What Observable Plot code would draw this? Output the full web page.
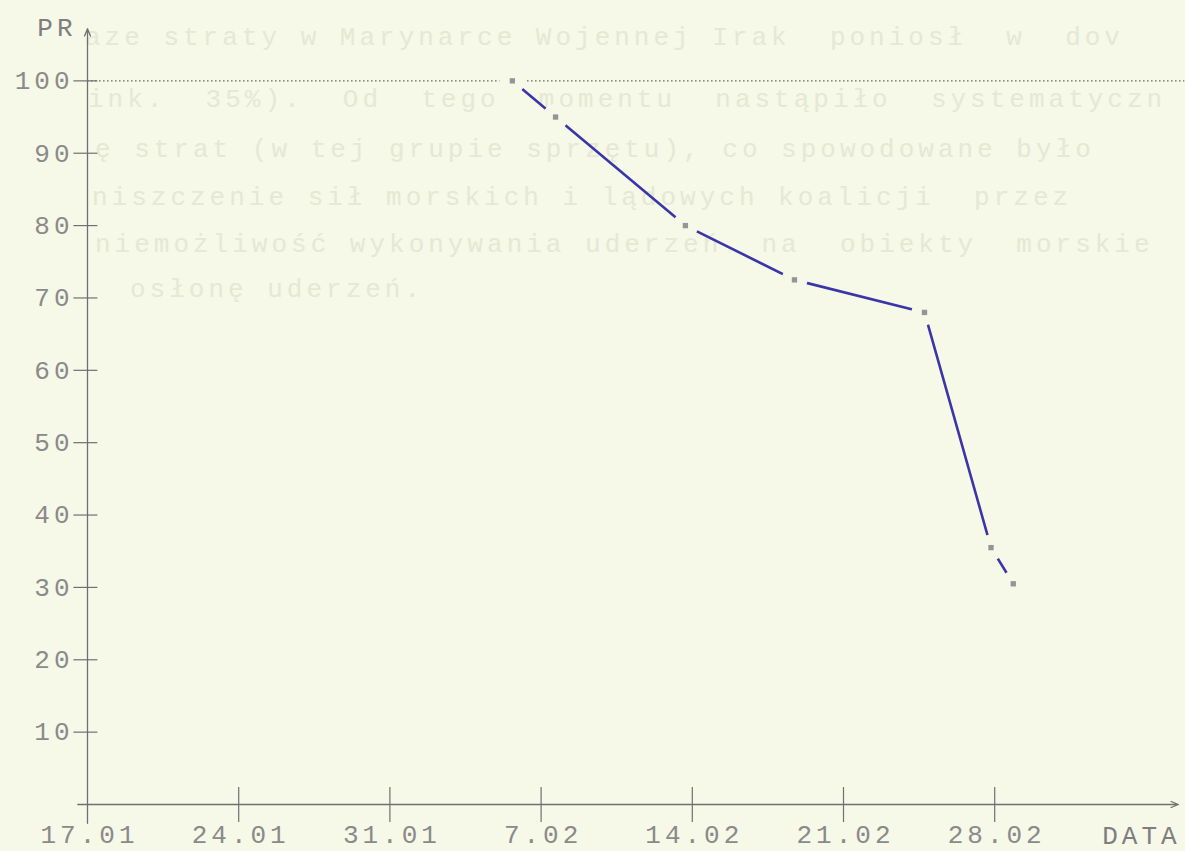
<!DOCTYPE html>
<html>
<head>
<meta charset="utf-8">
<script src="https://cdn.jsdelivr.net/npm/d3@7"></script>
<script src="https://cdn.jsdelivr.net/npm/@observablehq/plot@0.6"></script>
<style>
  html, body { margin: 0; padding: 0; background: #f6f8e8; overflow: hidden; }
  #wrap { position: relative; width: 1185px; height: 851px; }
  .bleed { position: absolute; font-family: "Liberation Mono", monospace; font-size: 26px; font-weight: normal;
           letter-spacing: 4px; color: #e5e8d5; white-space: pre; line-height: 26px; }
  #chart { position: absolute; left: 0; top: 0; }
</style>
</head>
<body>
<div id="wrap"></div>
<script>
// Data: days since 17.01 and PR values (percent)
const days = [19.67, 21.67, 27.68, 32.73, 38.75, 41.83, 42.86];
const prValues = [100, 95, 80, 72.5, 68, 35.5, 30.5];

const xTickDays = [0, 7, 14, 21, 28, 35, 42];
const xTickLabels = ["17.01", "24.01", "31.01", "7.02", "14.02", "21.02", "28.02"];
const yTicks = [10, 20, 30, 40, 50, 60, 70, 80, 90, 100];
const yAxisTitle = "PR";
const xAxisTitle = "DATA";
const referenceLevel = [100];

// faint text showing through from the page beneath
const bleedLines = [
  "aze straty w Marynarce Wojennej Irak  poniosł  w  dov",
  "ink.  35%).  Od  tego  momentu  nastąpiło  systematyczn",
  "ę strat (w tej grupie sprzętu), co spowodowane było",
  "niszczenie sił morskich i lądowych koalicji  przez",
  "niemożliwość wykonywania uderzeń  na  obiekty  morskie",
  "osłonę uderzeń."
];
const bleedPos = [[85, 25], [88, 87], [95, 137], [92, 185], [95, 232], [130, 277]];

const bg = "#f6f8e8";
const axisColor = "#707070";
const labelColor = "#8a8a8a";
const lineColor = "#3a36a8";

const wrap = document.getElementById("wrap");
bleedLines.forEach((t, i) => {
  const d = document.createElement("div");
  d.className = "bleed";
  d.style.left = bleedPos[i][0] + "px";
  d.style.top = bleedPos[i][1] + "px";
  d.textContent = t;
  wrap.appendChild(d);
});

const data = days.map((d, i) => ({day: d, pr: prValues[i]}));

const chart = Plot.plot({
  width: 1185,
  height: 851,
  marginLeft: 87,
  marginRight: 18,
  marginTop: 8,
  marginBottom: 47,
  x: {domain: [0, 50], axis: null},
  y: {domain: [0, 110], axis: null},
  style: {background: "transparent", fontFamily: "'Liberation Mono', monospace", fontSize: "26px", letterSpacing: "4px", overflow: "visible"},
  marks: [
    // dotted 100 % reference line
    Plot.ruleY(referenceLevel, {x1: 0, x2: 50.8, stroke: "#6a6a6a", strokeWidth: 1.3, strokeDasharray: "1.6,2.4"}),
    // x axis with arrow
    Plot.arrow([0], {x1: -0.45, x2: 50.5, y1: 0, y2: 0, stroke: axisColor, strokeWidth: 1.3, headLength: 9, headAngle: 45}),
    // y axis with arrow
    Plot.arrow([0], {x1: 0, x2: 0, y1: -2.6, y2: 107.2, stroke: axisColor, strokeWidth: 1.3, headLength: 9, headAngle: 45}),
    // crossing tick marks
    Plot.ruleY(yTicks, {x1: -0.63, x2: 0.48, stroke: axisColor, strokeWidth: 1.2}),
    Plot.ruleX(xTickDays.slice(1), {y1: -2.5, y2: 2.35, stroke: axisColor, strokeWidth: 1.2}),
    // tick labels
    Plot.axisX(xTickDays, {tickSize: 0, tickPadding: 20, dx: 2, fill: labelColor, fontSize: 26,
      tickFormat: d => xTickLabels[xTickDays.indexOf(d)], label: null}),
    Plot.axisY(yTicks, {tickSize: 0, tickPadding: 14, fill: labelColor, fontSize: 26, label: null}),
    // axis titles
    Plot.text([yAxisTitle], {x: 0, y: 107.4, dx: -11, text: d => d, textAnchor: "end", lineAnchor: "middle", fill: "#7e7e7e", fontSize: 26}),
    Plot.text([xAxisTitle], {x: 48.7, y: -4.28, dx: 2, text: d => d, textAnchor: "middle", lineAnchor: "middle", fill: "#7e7e7e", fontSize: 26}),
    // data line
    Plot.line(data, {x: "day", y: "pr", stroke: lineColor, strokeWidth: 2.6}),
    // gaps around the plotted points
    Plot.dot(data, {x: "day", y: "pr", r: 13, fill: bg, stroke: "none"}),
    // point markers
    Plot.dot(data, {x: "day", y: "pr", symbol: "square", r: 3, fill: "#959595", stroke: "none"})
  ]
});
chart.id = "chart";
wrap.appendChild(chart);
</script>
</body>
</html>
